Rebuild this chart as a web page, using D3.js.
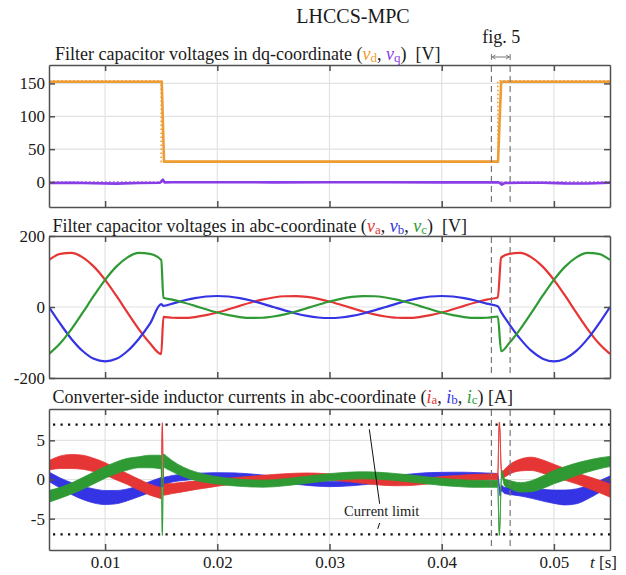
<!DOCTYPE html>
<html>
<head>
<meta charset="utf-8">
<script src="https://cdn.jsdelivr.net/npm/d3@7"></script>
<style>
  body { margin: 0; background: #fff; }
  svg { display: block; }
  text { font-family: "Liberation Serif", "Times New Roman", serif; }
</style>
</head>
<body>
<svg id="chart" width="626" height="575"></svg>
<script>
// ---------- time axis ----------
const xDomain = [0.005, 0.055];
const xTicks = [0.01, 0.02, 0.03, 0.04, 0.05];
const xTickLabels = ["0.01", "0.02", "0.03", "0.04", "0.05"];
const fig5Window = [0.04443, 0.0461];

// ---------- panel 1: dq voltages [V] ----------
const dqTicks = [0, 50, 100, 150];
const tVd = [0.005, 0.01505, 0.01525, 0.04502, 0.0453, 0.055];
const vd = [152.5, 152.5, 31, 31, 152.5, 152.5];
const tVdRef = [0.005, 0.015, 0.015, 0.045, 0.045, 0.055];
const vdRef = [154, 154, 31, 31, 154, 154];
const tVq = [0.005, 0.007, 0.009, 0.011, 0.013, 0.0149, 0.01515, 0.0153, 0.016, 0.02, 0.025, 0.03,
             0.035, 0.04, 0.045, 0.04515, 0.04535, 0.0456, 0.047, 0.049, 0.051, 0.053, 0.055];
const vq = [-1.5, -1.2, -1.8, -2.5, -1.5, -1, 3.5, -0.5, -0.3, -0.3, -0.5, -0.3,
            -0.3, -0.5, -0.5, -1, -4, -1.5, -1.2, -1, -2, -2.2, -1.2];
const tVqRef = [0.005, 0.055];
const vqRef = [0, 0];

// ---------- panel 2: abc voltages [V] ----------
const abcTicks = [-200, 0, 200];
const tAbc = [0.005, 0.006, 0.007, 0.008, 0.009, 0.010, 0.011, 0.012, 0.013, 0.014, 0.015,
  0.0152,
  0.016, 0.017, 0.018, 0.019, 0.020, 0.021, 0.022, 0.023, 0.024, 0.025,
  0.026, 0.027, 0.028, 0.029, 0.030, 0.031, 0.032, 0.033, 0.034, 0.035,
  0.036, 0.037, 0.038, 0.039, 0.040, 0.041, 0.042, 0.043, 0.044, 0.045,
  0.0453,
  0.046, 0.047, 0.048, 0.049, 0.050, 0.051, 0.052, 0.053, 0.054, 0.055];
const va = [132.5, 149.6, 152.2, 139.8, 113.7, 76.5, 31.8, -16.1, -62.3, -102.4, -132.5,
  -27.8,
  -30.3, -30.8, -28.3, -23.0, -15.5, -6.4, 3.3, 12.6, 20.7, 26.8,
  30.3, 30.8, 28.3, 23.0, 15.5, 6.4, -3.3, -12.6, -20.7, -26.8,
  -30.3, -30.8, -28.3, -23.0, -15.5, -6.4, 3.3, 12.6, 20.7, 26.8,
  139,
  149.6, 152.2, 139.8, 113.7, 76.5, 31.8, -16.1, -62.3, -102.4, -132.5];
const vb = [0, -47, -90, -124, -146, -153, -146, -124, -90, -47, 8,
  3,
  9.6, 18.2, 25.1, 29.5, 31, 29.5, 25.1, 18.2, 9.6, 0,
  -9.6, -18.2, -25.1, -29.5, -31, -29.5, -25.1, -18.2, -9.6, 0,
  9.6, 18.2, 25.1, 29.5, 31, 29.5, 25.1, 18.2, 9.6, 2,
  -14.4,
  -47.3, -89.9, -123.8, -145.5, -153, -145.5, -123.8, -89.9, -47.3, 0];
const vc = [-132.5, -102.4, -62.3, -16.1, 31.8, 76.5, 113.7, 139.8, 152.2, 149.6, 132.5,
  25.8,
  20.7, 12.6, 3.3, -6.4, -15.5, -23.0, -28.3, -30.8, -30.3, -26.8,
  -20.7, -12.6, -3.3, 6.4, 15.5, 23.0, 28.3, 30.8, 30.3, 26.8,
  20.7, 12.6, 3.3, -6.4, -15.5, -23.0, -28.3, -30.8, -30.3, -26.8,
  -124.7,
  -102.4, -62.3, -16.1, 31.8, 76.5, 113.7, 139.8, 152.2, 149.6, 132.5];

// ---------- panel 3: inductor currents [A] (centre of ripple band and its half width) ----------
const curTicks = [-5, 0, 5];
const currentLimit = [7, -7];
const tCur = [0.005, 0.006, 0.007, 0.008, 0.009, 0.010, 0.011, 0.012, 0.013, 0.014,
  0.0148, 0.0150, 0.01505, 0.0151, 0.01515, 0.0152, 0.0155,
  0.016, 0.017, 0.018, 0.019, 0.020, 0.021, 0.022, 0.023, 0.024, 0.025,
  0.026, 0.027, 0.028, 0.029, 0.030, 0.031, 0.032, 0.033, 0.034, 0.035,
  0.036, 0.037, 0.038, 0.039, 0.040, 0.041, 0.042, 0.043, 0.044,
  0.0448, 0.0450, 0.04507, 0.04513, 0.0452, 0.04527, 0.04535, 0.0456,
  0.046, 0.047, 0.048, 0.049, 0.050, 0.051, 0.052, 0.053, 0.054, 0.055];
const ia = [1.8, 2.2, 2.3, 2.2, 1.85, 1.35, 0.7, 0.05, -0.65, -1.3,
  -1.65, -1.75, 3.5, 7.0, 3.0, -1.3, -1.25,
  -1.15, -0.95, -0.75, -0.58, -0.4, -0.25, -0.1, 0.03, 0.15, 0.26,
  0.35, 0.42, 0.45, 0.42, 0.33, 0.2, 0.05, -0.12, -0.27, -0.38,
  -0.42, -0.4, -0.3, -0.15, 0.0, 0.1, 0.2, 0.28, 0.32,
  0.35, 0.35, 4.5, 7.1, 6.0, 2.5, 0.6, 0.8,
  1.25, 1.85, 2.0, 1.65, 1.15, 0.65, 0.15, -0.35, -0.85, -1.4];
const ib = [0.35, -0.45, -1.15, -1.7, -2.1, -2.3, -2.25, -1.95, -1.5, -0.95,
  -0.5, -0.35, -0.4, -0.45, -0.4, -0.25, -0.1,
  0.1, 0.28, 0.4, 0.48, 0.52, 0.52, 0.48, 0.38, 0.25, 0.08,
  -0.1, -0.28, -0.42, -0.53, -0.58, -0.55, -0.47, -0.34, -0.18, 0.0,
  0.18, 0.34, 0.47, 0.55, 0.58, 0.6, 0.6, 0.55, 0.5,
  0.45, 0.4, -0.2, -1.0, -1.8, -1.3, -1.1, -1.4,
  -1.45, -1.55, -1.75, -2.0, -2.2, -2.3, -2.15, -1.65, -0.95, -0.2];
const ic = [-2.15, -1.7, -1.15, -0.5, 0.2, 0.9, 1.5, 1.95, 2.2, 2.3,
  2.25, 2.2, -3.0, -6.9, -2.5, 2.4, 2.15,
  1.7, 0.95, 0.45, 0.12, -0.12, -0.3, -0.42, -0.5, -0.53, -0.48,
  -0.36, -0.2, -0.03, 0.14, 0.3, 0.42, 0.5, 0.53, 0.5, 0.42,
  0.3, 0.16, 0.0, -0.16, -0.3, -0.42, -0.5, -0.55, -0.55,
  -0.55, -0.55, -4.5, -6.9, -5.5, -1.5, 0.8, -0.35,
  -0.6, -1.0, -0.85, -0.35, 0.3, 0.8, 1.3, 1.7, 2.05, 2.3];
const iaRipple = [0.6, 0.8, 0.9, 0.9, 0.85, 0.8, 0.75, 0.7, 0.7, 0.7,
  0.7, 0.7, 0.3, 0.25, 0.3, 0.7, 0.7,
  0.65, 0.6, 0.55, 0.5, 0.45, 0.42, 0.4, 0.38, 0.38, 0.38,
  0.38, 0.38, 0.38, 0.38, 0.38, 0.38, 0.38, 0.38, 0.38, 0.38,
  0.38, 0.38, 0.38, 0.38, 0.38, 0.38, 0.38, 0.38, 0.38,
  0.38, 0.38, 0.3, 0.25, 0.3, 0.3, 0.4, 0.5,
  0.6, 0.75, 0.85, 0.85, 0.8, 0.75, 0.7, 0.75, 0.8, 0.85];
const ibRipple = [0.6, 0.65, 0.75, 0.85, 0.9, 0.9, 0.85, 0.75, 0.7, 0.7,
  0.65, 0.6, 0.55, 0.5, 0.5, 0.5, 0.45,
  0.42, 0.4, 0.38, 0.36, 0.35, 0.33, 0.33, 0.33, 0.33, 0.33,
  0.33, 0.33, 0.33, 0.33, 0.33, 0.33, 0.33, 0.33, 0.33, 0.33,
  0.33, 0.33, 0.33, 0.33, 0.33, 0.33, 0.33, 0.33, 0.33,
  0.33, 0.33, 0.3, 0.3, 0.3, 0.3, 0.35, 0.4,
  0.45, 0.55, 0.65, 0.75, 0.85, 0.95, 0.95, 0.85, 0.75, 0.65];
const icRipple = [0.75, 0.7, 0.7, 0.75, 0.75, 0.75, 0.75, 0.75, 0.7, 0.8,
  0.85, 0.85, 0.3, 0.25, 0.3, 0.85, 0.8,
  0.7, 0.6, 0.55, 0.5, 0.47, 0.45, 0.45, 0.45, 0.45, 0.45,
  0.45, 0.45, 0.45, 0.45, 0.45, 0.45, 0.45, 0.45, 0.45, 0.45,
  0.45, 0.45, 0.45, 0.45, 0.45, 0.45, 0.45, 0.45, 0.45,
  0.45, 0.45, 0.3, 0.25, 0.3, 0.3, 0.4, 0.45,
  0.5, 0.6, 0.7, 0.8, 0.85, 0.85, 0.8, 0.75, 0.7, 0.65];

// ---------- colours ----------
const C = {
  orange: "#EE9C32", purple: "#8A3CE6",
  red: "#E53535", blue: "#3434E4", green: "#2F9A34",
  frame: "#505050", grid: "#e2e2e2", text: "#1a1a1a"
};

// ---------- layout ----------
const svg = d3.select("#chart");
const x = d3.scaleLinear().domain(xDomain).range([49, 610]);
const panels = [
  { top: 65, bottom: 207, domain: [-38, 178], ticks: dqTicks },
  { top: 236, bottom: 378, domain: [-200, 200], ticks: abcTicks },
  { top: 409, bottom: 550, domain: [-9, 9], ticks: curTicks }
];
panels.forEach((p, i) => {
  p.y = d3.scaleLinear().domain(p.domain).range([p.bottom, p.top]);
  p.g = svg.append("g");
  const id = "clip" + i;
  svg.append("clipPath").attr("id", id).append("rect")
    .attr("x", x.range()[0]).attr("y", p.top)
    .attr("width", x.range()[1] - x.range()[0]).attr("height", p.bottom - p.top);
  p.clip = `url(#${id})`;
  // grid
  p.g.append("g").selectAll("line").data(xTicks).join("line")
    .attr("x1", d => x(d)).attr("x2", d => x(d))
    .attr("y1", p.top).attr("y2", p.bottom)
    .attr("stroke", C.grid).attr("stroke-width", 1.2);
  p.g.append("g").selectAll("line").data(p.ticks).join("line")
    .attr("x1", x.range()[0]).attr("x2", x.range()[1])
    .attr("y1", d => p.y(d)).attr("y2", d => p.y(d))
    .attr("stroke", C.grid).attr("stroke-width", 1.2);
  p.data = p.g.append("g").attr("clip-path", p.clip);
});

function styleAxis(g) {
  g.attr("font-family", '"Liberation Serif", "Times New Roman", serif')
   .attr("font-size", 17);
  g.selectAll("path, line").attr("stroke", C.frame).attr("stroke-width", 1.5);
  g.selectAll("text").attr("fill", C.text);
}

function drawAxes(p, withXLabels) {
  const [x0, x1] = x.range();
  p.g.append("g").attr("transform", `translate(0,${p.bottom})`)
    .call(d3.axisBottom(x).tickValues(xTicks).tickSize(-6).tickSizeOuter(0).tickPadding(6)
      .tickFormat((d, i) => withXLabels ? xTickLabels[i] : ""))
    .call(styleAxis);
  p.g.append("g").attr("transform", `translate(0,${p.top})`)
    .call(d3.axisTop(x).tickValues(xTicks).tickSize(-6).tickSizeOuter(0).tickFormat(""))
    .call(styleAxis);
  p.g.append("g").attr("transform", `translate(${x0},0)`)
    .call(d3.axisLeft(p.y).tickValues(p.ticks).tickSize(-6).tickSizeOuter(0).tickPadding(4)
      .tickFormat(d => String(d)))
    .call(styleAxis);
  p.g.append("g").attr("transform", `translate(${x1},0)`)
    .call(d3.axisRight(p.y).tickValues(p.ticks).tickSize(-6).tickSizeOuter(0).tickFormat(""))
    .call(styleAxis);
}

function series(t, v) { return t.map((tt, i) => [tt, v[i]]); }

// ---------- panel 1 ----------
{
  const p = panels[0];
  const lin = d3.line().x(d => x(d[0])).y(d => p.y(d[1]));
  p.data.append("path").datum(series(tVqRef, vqRef)).attr("d", lin)
    .attr("fill", "none").attr("stroke", C.purple).attr("stroke-width", 1.4)
    .attr("stroke-dasharray", "1.5,2.5").attr("opacity", 0.8);
  p.data.append("path").datum(series(tVq, vq)).attr("d", lin)
    .attr("fill", "none").attr("stroke", C.purple).attr("stroke-width", 2.6)
    .attr("stroke-linejoin", "round");
  p.data.append("path").datum(series(tVd, vd)).attr("d", lin)
    .attr("fill", "none").attr("stroke", C.orange).attr("stroke-width", 2.6)
    .attr("stroke-linejoin", "round");
  p.data.append("path").datum(series(tVdRef, vdRef)).attr("d", lin)
    .attr("fill", "none").attr("stroke", C.orange).attr("stroke-width", 1.6)
    .attr("stroke-dasharray", "1.5,2.5");
}

// ---------- panel 2 ----------
{
  const p = panels[1];
  const smooth = d3.line().x(d => x(d[0])).y(d => p.y(d[1])).curve(d3.curveMonotoneX);
  [[va, C.red], [vb, C.blue], [vc, C.green]].forEach(([v, col]) => {
    p.data.append("path").datum(series(tAbc, v)).attr("d", smooth)
      .attr("fill", "none").attr("stroke", col).attr("stroke-width", 2.2)
      .attr("stroke-linejoin", "round");
  });
}

// ---------- panel 3 ----------
{
  const p = panels[2];
  p.data.selectAll("line.limit").data(currentLimit).join("line")
    .attr("class", "limit")
    .attr("x1", x.range()[0] + 4).attr("x2", x.range()[1])
    .attr("y1", d => p.y(d)).attr("y2", d => p.y(d))
    .attr("stroke", "#111").attr("stroke-width", 2.2).attr("stroke-dasharray", "2.2,5.3");
  const band = d3.area().x(d => x(d.t))
    .y0(d => p.y(d.c - d.w)).y1(d => p.y(d.c + d.w)).curve(d3.curveMonotoneX);
  [[ib, ibRipple, C.blue], [ia, iaRipple, C.red], [ic, icRipple, C.green]].forEach(([c, w, col]) => {
    const rows = tCur.map((t, i) => ({ t, c: c[i], w: w[i] }));
    p.data.append("path").datum(rows).attr("d", band)
      .attr("fill", col).attr("stroke", col).attr("stroke-width", 0.8);
  });
  // annotation for the current limit
  const note = p.g.append("g");
  note.append("line")
    .attr("x1", x(0.03355)).attr("y1", p.y(6.4)).attr("x2", x(0.03447)).attr("y2", p.y(-3.1))
    .attr("stroke", "#111").attr("stroke-width", 1);
  note.append("line")
    .attr("x1", x(0.03447)).attr("y1", p.y(-5.55)).attr("x2", x(0.0343)).attr("y2", p.y(-6.3))
    .attr("stroke", "#111").attr("stroke-width", 1);
  note.append("text").attr("x", x(0.0313)).attr("y", p.y(-4.6))
    .attr("font-size", 14.5).attr("fill", C.text).text("Current limit");
}

// fig. 5 window markers
panels.forEach(p => {
  p.g.append("g").selectAll("line").data(fig5Window).join("line")
    .attr("x1", d => x(d)).attr("x2", d => x(d))
    .attr("y1", p.top + 1).attr("y2", p.bottom - 1)
    .attr("stroke", "#777").attr("stroke-width", 1.2).attr("stroke-dasharray", "6,4");
});
panels.forEach((p, i) => drawAxes(p, i === 2));

// ---------- texts ----------
svg.append("text").attr("x", 353).attr("y", 23).attr("text-anchor", "middle")
  .attr("font-size", 20).attr("fill", C.text).text("LHCCS-MPC");

function title(xPos, yPos, parts) {
  const t = svg.append("text").attr("x", xPos).attr("y", yPos)
    .attr("font-size", 18).attr("fill", C.text).style("white-space", "pre");
  let shifted = false;
  parts.forEach(([s, kind, col]) => {
    const span = t.append("tspan").text(s);
    if (col) span.attr("fill", col);
    if (kind === "sym") span.attr("font-style", "italic");
    if (kind === "sub") {
      span.attr("font-size", 13);
      if (!shifted) { span.attr("dy", 1.5); shifted = true; }
    } else if (shifted) { span.attr("dy", -1.5); shifted = false; }
  });
}
title(55, 60, [["Filter capacitor voltages in dq-coordinate ("],
  ["v", "sym", C.orange], ["d", "sub", C.orange], [", "],
  ["v", "sym", C.purple], ["q", "sub", C.purple], [")  [V]"]]);
title(52.5, 232, [["Filter capacitor voltages in abc-coordinate ("],
  ["v", "sym", C.red], ["a", "sub", C.red], [", "],
  ["v", "sym", C.blue], ["b", "sub", C.blue], [", "],
  ["v", "sym", C.green], ["c", "sub", C.green], [")  [V]"]]);
title(52.5, 402.5, [["Converter-side inductor currents in abc-coordinate ("],
  ["i", "sym", C.red], ["a", "sub", C.red], [", "],
  ["i", "sym", C.blue], ["b", "sub", C.blue], [", "],
  ["i", "sym", C.green], ["c", "sub", C.green], [") [A]"]]);

// x axis name
const tl = svg.append("text").attr("x", 617).attr("y", 568).attr("text-anchor", "end")
  .attr("font-size", 17).attr("fill", C.text).style("white-space", "pre");
tl.append("tspan").attr("font-style", "italic").text("t");
tl.append("tspan").text(" [s]");

// fig. 5 label with span arrow
{
  const xa = x(fig5Window[0]), xb = x(fig5Window[1]), ya = 57;
  svg.append("text").attr("x", (xa + xb) / 2 + 0.5).attr("y", 43).attr("text-anchor", "middle")
    .attr("font-size", 18).attr("fill", C.text).text("fig. 5");
  const a = svg.append("g").attr("stroke", "#777").attr("stroke-width", 1).attr("fill", "none");
  a.append("line").attr("x1", xa).attr("x2", xb).attr("y1", ya).attr("y2", ya);
  a.append("line").attr("x1", xa).attr("x2", xa).attr("y1", ya - 3).attr("y2", ya + 3);
  a.append("line").attr("x1", xb).attr("x2", xb).attr("y1", ya - 3).attr("y2", ya + 3);
  a.append("path").attr("d", `M${xa + 4},${ya - 2}L${xa + 1},${ya}L${xa + 4},${ya + 2}`);
  a.append("path").attr("d", `M${xb - 4},${ya - 2}L${xb - 1},${ya}L${xb - 4},${ya + 2}`);
}
</script>
</body>
</html>
